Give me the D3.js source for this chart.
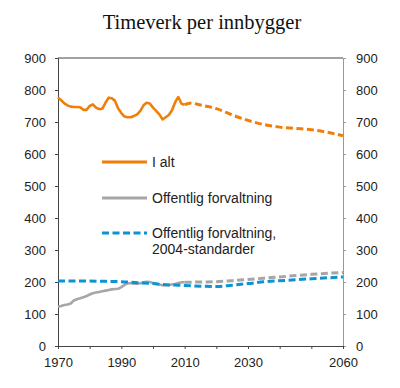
<!DOCTYPE html>
<html><head><meta charset="utf-8">
<script src="https://cdn.jsdelivr.net/npm/d3@7"></script>
<style>body{margin:0;background:#fff}svg{display:block}</style>
</head><body><div id="chart"></div>
<script>
const title = "Timeverk per innbygger";
const yTicks = [0,100,200,300,400,500,600,700,800,900];
const xTickYears = [1970,1980,1990,2000,2010,2020,2030,2040,2050,2060];
const xLabelYears = [1970,1990,2010,2030,2060];

const totalYears = d3.range(1970, 2011);
const totalValues = [777,768,758,752,748,747,747,746,738,738,750,755,745,740,742,760,776,774,766,742,728,717,715,715,719,724,735,752,760,758,745,735,724,708,715,722,737,762,778,757,754];
const totalProjYears = [2010,2012,2015,2020,2025,2030,2035,2040,2045,2050,2055,2060];
const totalProjValues = [754,759,753,742,722,705,692,684,680,676,668,657];

const publicYears = d3.range(1970, 2011);
const publicValues = [123,125,128,130,133,142,146,149,152,156,161,165,167,169,171,173,175,177,178,179,184,191,196,196,195,195,196,199,201,200,197,194,192,190,190,191,192,194,197,199,199];
const publicProjYears = [2010,2015,2020,2025,2030,2035,2040,2045,2050,2055,2060];
const publicProjValues = [199,200,201,204,208,212,216,220,224,227,230];

const std2004Years = [1970,1975,1980,1985,1990,1995,2000,2005,2010,2015,2020,2025,2030,2035,2040,2045,2050,2055,2060];
const std2004Values = [203,203,203,202,201,198,195,191,189,187,186,190,195,201,204,207,210,213,216];

const legendLabels = ["I alt", "Offentlig forvaltning", ["Offentlig forvaltning,", "2004-standarder"]];

const W = 400, H = 388;
const m = {left:58, right:57, top:58, bottom:42};
const svg = d3.select("#chart").append("svg").attr("width", W).attr("height", H);
const x = d3.scaleLinear().domain([1970,2060]).range([m.left, W - m.right]);
const y = d3.scaleLinear().domain([0,900]).range([H - m.bottom, m.top]);

const orange = "#f07f09", grey = "#a6a6a6", blue = "#0c94d2";
const font = "Liberation Sans, Arial, sans-serif";
const textCol = "#222";

svg.append("text").attr("x", 202).attr("y", 29).attr("text-anchor","middle")
  .attr("font-family","Liberation Serif, Times New Roman, serif").attr("font-size", 20.5)
  .attr("fill", "#111").text(title);

// axes
const left = d3.axisLeft(y).tickValues(yTicks).tickSize(3).tickPadding(9);
const right = d3.axisRight(y).tickValues(yTicks).tickSize(3).tickPadding(10);
const bottom = d3.axisBottom(x).tickValues(xTickYears).tickSize(3).tickPadding(9)
  .tickFormat(d => xLabelYears.includes(d) ? String(d) : "");

function style(g, col){
  g.selectAll("path").attr("stroke", col);
  g.selectAll("line").attr("stroke", col);
  g.selectAll("text").attr("font-family", font).attr("font-size", 13).attr("fill", textCol);
}
// top line
svg.append("line").attr("x1", m.left).attr("x2", W - m.right).attr("y1", m.top).attr("y2", m.top).attr("stroke", "#444");
svg.append("g").attr("transform", `translate(${W - m.right},0)`).call(right).call(g => style(g, "#999"));
svg.append("g").attr("transform", `translate(${m.left},0)`).call(left).call(g => style(g, "#444"));
svg.append("g").attr("transform", `translate(0,${H - m.bottom})`).call(bottom).call(g => style(g, "#444"));
svg.selectAll(".domain").attr("stroke-width", 1);

const line = d3.line().x(d => x(d[0])).y(d => y(d[1]));
const smooth = d3.line().x(d => x(d[0])).y(d => y(d[1])).curve(d3.curveMonotoneX);
function draw(years, vals, col, dashed, gen){
  svg.append("path").datum(years.map((yr,i)=>[yr, vals[i]]))
    .attr("d", gen).attr("fill","none").attr("stroke", col)
    .attr("stroke-width", dashed ? 3 : 2.6)
    .attr("stroke-dasharray", dashed ? "7,3.5" : null)
    .attr("stroke-linejoin","round");
}
draw(publicYears, publicValues, grey, false, line);
draw(publicProjYears, publicProjValues, grey, true, smooth);
draw(std2004Years, std2004Values, blue, true, smooth);
draw(totalYears, totalValues, orange, false, line);
draw(totalProjYears, totalProjValues, orange, true, smooth);

// legend
const lg = [
  {col: orange, dash: null, y: 162, label: legendLabels[0]},
  {col: grey, dash: null, y: 198, label: legendLabels[1]},
  {col: blue, dash: "7,3.5", y: 233, label: legendLabels[2]}
];
lg.forEach(it => {
  svg.append("line").attr("x1", 102).attr("x2", 147).attr("y1", it.y).attr("y2", it.y)
    .attr("stroke", it.col).attr("stroke-width", 3).attr("stroke-dasharray", it.dash);
  const t = svg.append("text").attr("x", 152).attr("y", it.y + 5)
    .attr("font-family", font).attr("font-size", 14).attr("fill", textCol);
  const lines = Array.isArray(it.label) ? it.label : [it.label];
  lines.forEach((s, i) => t.append("tspan").attr("x", 152).attr("dy", i ? 16 : 0).text(s));
});
</script>
</body></html>
